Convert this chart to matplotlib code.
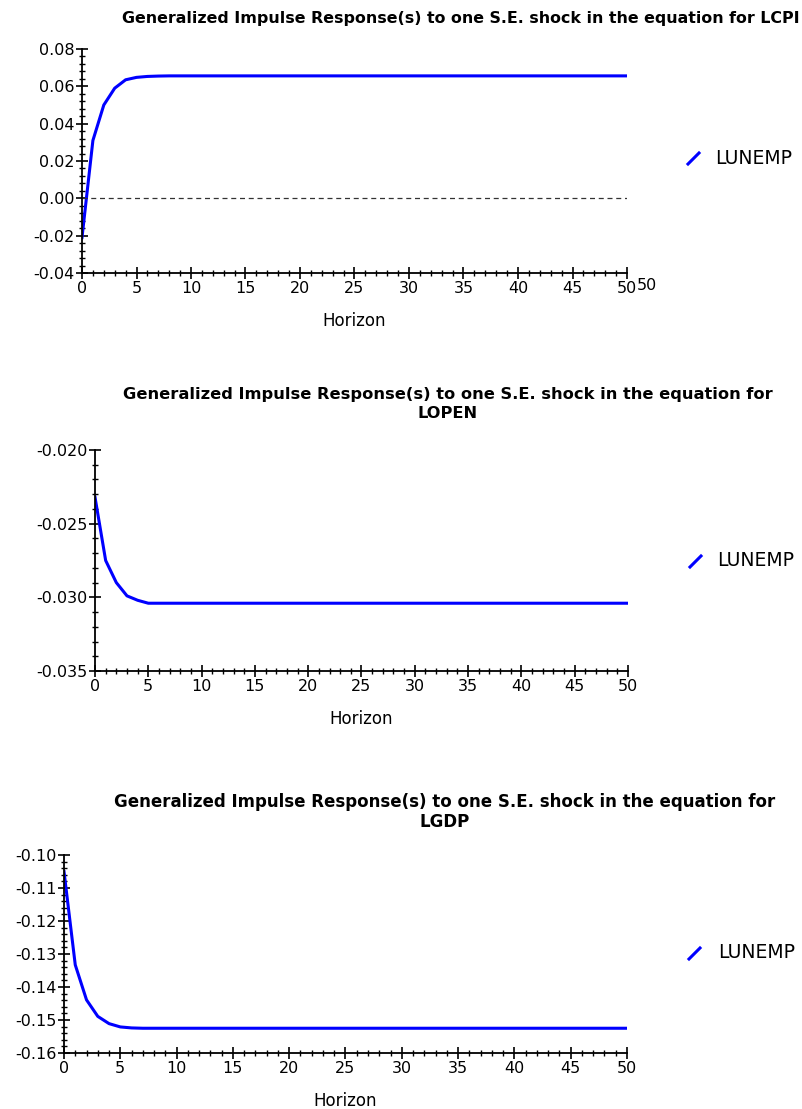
import matplotlib
matplotlib.use("Agg")
import matplotlib.pyplot as plt
from matplotlib.ticker import MultipleLocator, FormatStrFormatter
from matplotlib.lines import Line2D

plt.rcParams['font.family'] = ['DejaVu Sans']

horizon = list(range(0, 51))

# Responses of LUNEMP
lcpi_head = [-0.021, 0.031, 0.050, 0.059, 0.0635, 0.0648, 0.0653, 0.0655]
lopen_head = [-0.0232, -0.0275, -0.0290, -0.0299, -0.0302, -0.0304, -0.0304]
lgdp_head = [-0.1050, -0.1333, -0.1439, -0.1489, -0.1511, -0.1521, -0.1524]
lcpi_tail = 0.0656
lopen_tail = -0.0304
lgdp_tail = -0.1525
lcpi = lcpi_head + [lcpi_tail] * (51 - len(lcpi_head))
lopen = lopen_head + [lopen_tail] * (51 - len(lopen_head))
lgdp = lgdp_head + [lgdp_tail] * (51 - len(lgdp_head))

series_name = "LUNEMP"
titles = ["Generalized Impulse Response(s) to one S.E. shock in the equation for LCPI",
          "Generalized Impulse Response(s) to one S.E. shock in the equation for\nLOPEN",
          "Generalized Impulse Response(s) to one S.E. shock in the equation for\nLGDP"]

W, H = 803, 1109
fig = plt.figure(figsize=(W / 100, H / 100), dpi=100)
FS = 11.5


def px_axes(l, r, t, b):
    return fig.add_axes([l / W, (H - b) / H, (r - l) / W, (b - t) / H])


def style(ax, ylo, yhi, ymaj, ymin, fmt):
    ax.set_xlim(0, 50)
    ax.set_ylim(ylo, yhi)
    ax.xaxis.set_major_locator(MultipleLocator(5))
    ax.xaxis.set_minor_locator(MultipleLocator(1))
    ax.yaxis.set_major_locator(MultipleLocator(ymaj))
    ax.yaxis.set_minor_locator(MultipleLocator(ymin))
    ax.yaxis.set_major_formatter(FormatStrFormatter(fmt))
    for s in ['top', 'right']:
        ax.spines[s].set_visible(False)
    for s in ['left', 'bottom']:
        ax.spines[s].set_linewidth(1.3)
    ax.tick_params(which='major', direction='inout', length=9, width=1.2,
                   labelsize=FS, pad=1)
    ax.tick_params(which='minor', direction='inout', length=5, width=1.0)
    ax.set_xlabel("Horizon", fontsize=12, labelpad=12)


def ptext(x, y, s, **kw):
    fig.text(x / W, (H - y) / H, s, **kw)


def legend(x0, y0, tx):
    fig.add_artist(Line2D([x0 / W, (x0 + 11) / W], [(H - y0) / H, (H - y0 + 11) / H],
                          color='#0000ff', lw=2.2))
    ptext(tx, y0 - 6, series_name, fontsize=13.5, va='center', ha='left')


# Plot 1
ax1 = px_axes(82, 627, 49, 273)
ax1.plot(horizon, lcpi, color='#0000ff', lw=2.2)
ax1.axhline(0, color='#333333', lw=0.9, ls=(0, (4, 3)))
style(ax1, -0.04, 0.08, 0.02, 0.004, '%.2f')
ptext(800, 18, titles[0], fontsize=11.4, fontweight='bold', ha='right', va='center')
ptext(647, 285, "50", fontsize=FS, va='center', ha='center')
legend(688, 164, 715)

# Plot 2
ax2 = px_axes(95, 628, 450, 671)
ax2.plot(horizon, lopen, color='#0000ff', lw=2.2)
style(ax2, -0.035, -0.020, 0.005, 0.001, '%.3f')
ptext(448, 404, titles[1], fontsize=11.7, fontweight='bold', ha='center', va='center',
      linespacing=1.25, multialignment='center')
legend(690, 567, 717)

# Plot 3
ax3 = px_axes(64, 627, 855, 1053)
ax3.plot(horizon, lgdp, color='#0000ff', lw=2.2)
style(ax3, -0.16, -0.10, 0.01, 0.002, '%.2f')
ptext(445, 812, titles[2], fontsize=12.0, fontweight='bold', ha='center', va='center',
      linespacing=1.1, multialignment='center')
legend(689, 959, 718)

fig.savefig("out.png", dpi=100)
